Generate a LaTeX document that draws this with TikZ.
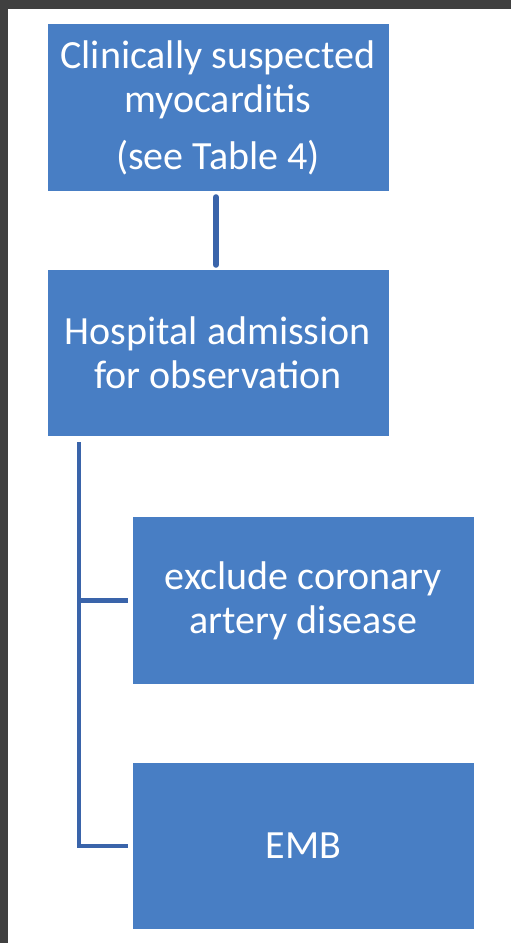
\documentclass[tikz,border=0pt]{standalone}
\usepackage{fontspec}
\setmainfont{Carlito}
\definecolor{boxblue}{RGB}{72,126,196}
\definecolor{lineblue}{RGB}{58,100,170}
\definecolor{framegray}{RGB}{64,64,64}
\begin{document}
\begin{tikzpicture}[x=1pt,y=-1pt,
  flowbox/.style={fill=boxblue,draw=none,inner sep=0pt,minimum width=341pt,
    text=white,align=center,font=\fontsize{40pt}{44pt}\selectfont},
  conn/.style={draw=lineblue,line width=4.5pt},
  connthick/.style={draw=lineblue,line width=6pt,line cap=round}]
\useasboundingbox (0,0) rectangle (511,943);
\fill[white] (0,0) rectangle (511,943);
\fill[framegray] (0,0) rectangle (511,9);
\fill[framegray] (0,0) rectangle (8,943);

\node[flowbox,minimum height=167pt] (b1) at (218,107.5)
  {Clinically suspected\\myocarditis\\[13pt](see Table 4)};
\node[flowbox,minimum height=166pt] (b2) at (218,353)
  {Hospital admission\\for observation};
\node[flowbox,minimum height=167pt] (b3) at (303.5,600.5)
  {exclude coronary\\artery disease};
\node[flowbox,minimum height=166pt] (b4) at (303.5,846)
  {EMB};

\draw[connthick] ([xshift=-2pt,yshift=-6pt]b1.south) -- ([xshift=-2pt,yshift=5pt]b2.north);
\coordinate (trunk) at (79,442);
\draw[conn] (trunk) |- ([xshift=-5pt]b4.west);
\draw[conn] (trunk |- b3.west) -- ([xshift=-5pt]b3.west);
\end{tikzpicture}
\end{document}
